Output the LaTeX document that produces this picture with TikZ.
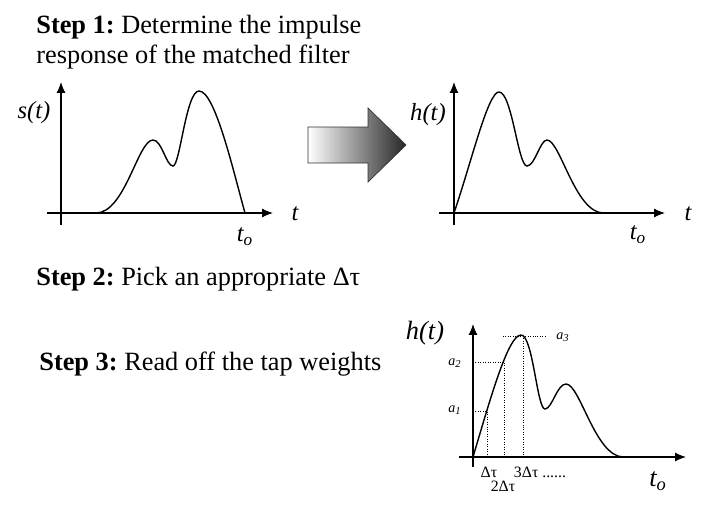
\documentclass[tikz,border=0pt]{standalone}
\usepackage{fontspec}
\setmainfont{Liberation Serif}
\usetikzlibrary{arrows.meta}
\frenchspacing

\begin{document}
\begin{tikzpicture}[
  x = 0.02cm, y = -0.02cm,
  steptext/.style={anchor=base west, inner sep=0, font=\fontsize{15}{17}\selectfont, align=left},
  axis/.style={-{Latex[length=2.2mm, width=1.8mm]}, semithick},
  pulse/.style={thick},
  axislabel/.style={inner sep=0, font=\fontsize{14}{16}\selectfont\itshape},
  biglabel/.style={inner sep=0, font=\fontsize{15}{17}\selectfont\itshape},
  tap/.style={densely dotted, thin},
  tapvalue/.style={inner sep=0, font=\fontsize{8}{9}\selectfont\itshape},
  delay/.style={inner sep=0, font=\fontsize{9}{10}\selectfont},
  bigarrow/.style={draw=black!80, left color=white, right color=black!85}
]
    \useasboundingbox (0,0) rectangle (718,507);

    % Step texts
    \node (stepone) at (36,63) [steptext] {\textbf{Step 1:} Determine the impulse\\response of the matched filter};
    \node (steptwo) at (36,285) [steptext] {\textbf{Step 2:} Pick an appropriate Δτ};
    \node (stepthree) at (39,370) [steptext] {\textbf{Step 3:} Read off the tap weights};

    % Signal s(t)
    \draw[axis] (61,225) -- (61,82);
    \draw[axis] (47,213) -- (273,213);
    \node (signal) at (34,113) [axislabel] {s(t)};
    \node (tone) at (295,214) [axislabel] {t};
    \node (toone) at (245,237) [axislabel] {t\textsubscript{o}};
    \draw[pulse] (96,213) .. controls (125,213) and (138,140) .. (153,140)
                 .. controls (162,140) and (166,166) .. (173,166)
                 .. controls (180,166) and (186,91) .. (199,91)
                 .. controls (215,91) and (233,170) .. (245,213);

    % Arrow
    \path[bigarrow] (308,127) -- (368,127) -- (368,108) -- (406,145)
                    -- (368,182) -- (368,163) -- (308,163) -- cycle;

    % Impulse response h(t)
    \draw[axis] (454,225) -- (454,82);
    \draw[axis] (439,213) -- (665,213);
    \node (impulse) at (428,115) [axislabel] {h(t)};
    \node (ttwo) at (688,214) [axislabel] {t};
    \node (totwo) at (638,235) [axislabel] {t\textsubscript{o}};
    \draw[pulse] (454,213) .. controls (472,160) and (488,92) .. (499,92)
                 .. controls (512,92) and (518,166) .. (527,166)
                 .. controls (535,166) and (540,140) .. (547,140)
                 .. controls (560,140) and (575,212) .. (603,213);

    % Tap weights
    \draw[axis] (473,467) -- (473,324);
    \draw[axis] (459,457) -- (686,457);
    \node (taps) at (425,333) [biglabel] {h(t)};
    \node (tothree) at (658,481) [biglabel] {t\textsubscript{o}};
    \draw[pulse] (473,457) .. controls (490,400) and (508,335) .. (521,335)
                 .. controls (533,335) and (537,409) .. (545,409)
                 .. controls (552,409) and (557,384) .. (566,384)
                 .. controls (580,384) and (595,456) .. (623,457);

    \coordinate (one) at (487,411);
    \coordinate (two) at (504,362);
    \coordinate (three) at (523,336);
    \draw[tap] (473,411) -- (one) -- (487,457);
    \draw[tap] (473,362) -- (two) -- (504,457);
    \draw[tap] (503,336) -- (547,336);
    \draw[tap] (three) -- (523,457);

    \node (aone) at (455,410) [tapvalue] {a\textsubscript{1}};
    \node (atwo) at (455,363) [tapvalue] {a\textsubscript{2}};
    \node (athree) at (563,337) [tapvalue] {a\textsubscript{3}};
    \node (dtone) at (489,472) [delay] {Δτ};
    \node (dttwo) at (503,486) [delay] {2Δτ};
    \node (dtthree) at (540,472) [delay] {3Δτ ......};
\end{tikzpicture}
\end{document}
